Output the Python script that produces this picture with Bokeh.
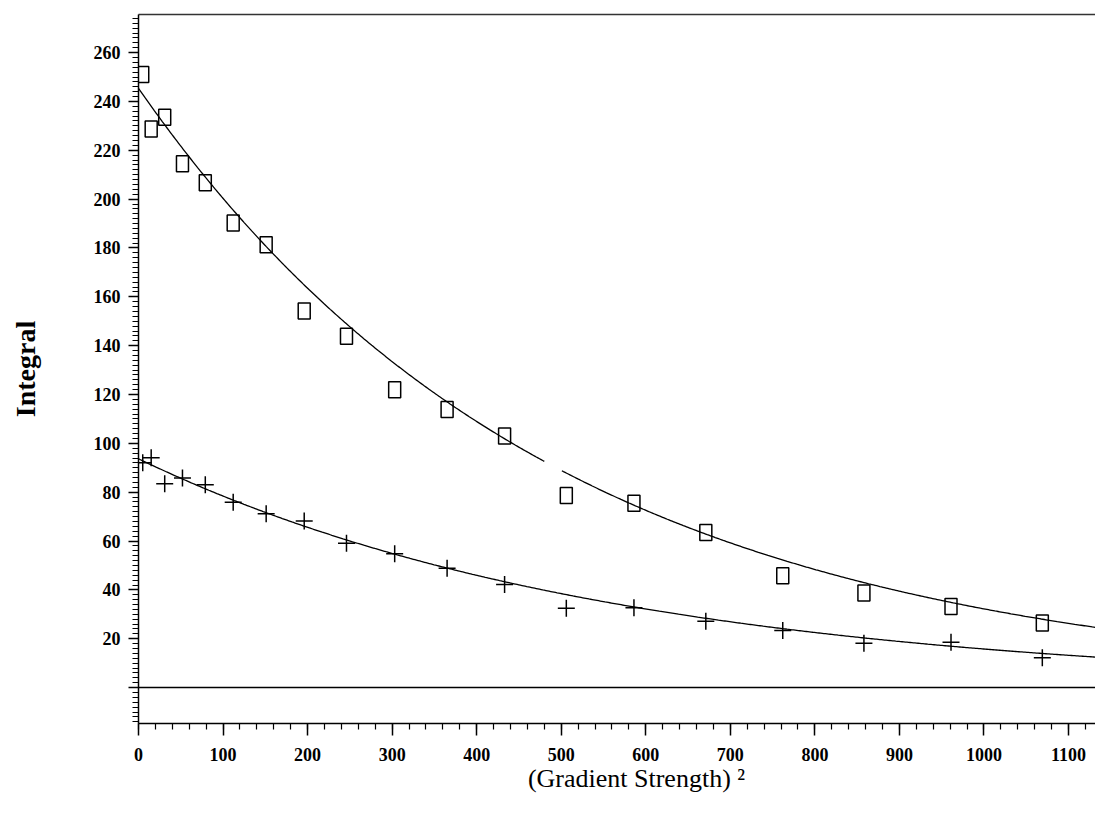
import numpy as np
from bokeh.plotting import figure
from bokeh.models import Range1d, FixedTicker, LinearAxis, Span, ColumnDataSource
from bokeh.embed import file_html
from bokeh.resources import INLINE

# ---- data ----
sq_x = [5, 15, 31, 52, 79, 112, 151, 196, 246, 303, 365, 433, 506, 586, 671, 762, 858, 961, 1069]
sq_y = [251, 228.7, 233.5, 214.5, 206.7, 190.2, 181.3, 154.2, 143.9, 122, 113.9, 103, 78.7, 75.5, 63.5, 45.8, 38.7, 33.2, 26.5]

pl_x = [5, 15, 31, 52, 79, 112, 151, 196, 246, 303, 365, 433, 506, 586, 671, 762, 858, 961, 1069]
pl_y = [92.1, 94.1, 83.5, 85.8, 83.1, 75.9, 71.2, 68.2, 59.1, 54.8, 48.9, 42.2, 32.5, 32.7, 27.2, 23.4, 18.2, 18.6, 12.2]

# exponential fit parameters (y = A * exp(-k x))
fit_sq_A, fit_sq_k = 245.4, 0.00203
fit_pl_A, fit_pl_k = 93.7, 0.00178
fit_sq_gap = (481, 499)   # short break in the upper curve

x_ticks = list(range(0, 1101, 100))
x_minor = list(range(0, 1141, 20))
y_ticks = list(range(0, 261, 20))
y_minor = list(range(-14, 276, 2))

X_MAX = 1131.9
Y_MIN, Y_MAX = -14.7, 275.6

FONT = "Liberation Serif"
INK = "black"

p = figure(width=1095, height=799, output_backend="svg", toolbar_location=None,
           x_range=Range1d(0, X_MAX), y_range=Range1d(Y_MIN, Y_MAX),
           min_border_left=138, min_border_right=0, min_border_top=14, min_border_bottom=76)
p.grid.visible = False
p.outline_line_color = None
p.background_fill_color = "white"
p.border_fill_color = "white"

# axes
xa = p.xaxis[0]
xa.ticker = FixedTicker(ticks=x_ticks, minor_ticks=x_minor)
xa.axis_label = "\u00a0" * 6 + "(Gradient Strength) \u00b2"
xa.axis_label_text_font = FONT
xa.axis_label_text_font_style = "normal"
xa.axis_label_text_font_size = "26px"
xa.axis_label_text_color = INK
xa.axis_label_standoff = 0
xa.major_label_text_font = FONT
xa.major_label_text_font_style = "bold"
xa.major_label_text_font_size = "18px"
xa.major_label_text_color = INK
xa.major_label_standoff = 12
xa.major_tick_out = 12
xa.major_tick_in = 0
xa.minor_tick_out = 6
xa.minor_tick_in = 0
xa.axis_line_width = 1.5
xa.axis_line_color = INK
xa.major_tick_line_width = 1.5
xa.major_tick_line_color = INK
xa.minor_tick_line_width = 1.2
xa.minor_tick_line_color = INK

ya = p.yaxis[0]
ya.ticker = FixedTicker(ticks=y_ticks, minor_ticks=y_minor)
ya.major_label_overrides = {0: ""}
ya.axis_label = "Integral"
ya.axis_label_text_font = FONT
ya.axis_label_text_font_style = "bold"
ya.axis_label_text_font_size = "28px"
ya.axis_label_text_color = INK
ya.axis_label_standoff = 50
ya.major_label_text_font = FONT
ya.major_label_text_font_style = "bold"
ya.major_label_text_font_size = "18px"
ya.major_label_text_color = INK
ya.major_label_standoff = 8
ya.major_tick_out = 10
ya.major_tick_in = 0
ya.minor_tick_out = 6
ya.minor_tick_in = 0
ya.axis_line_width = 1.5
ya.axis_line_color = INK
ya.major_tick_line_width = 1.5
ya.major_tick_line_color = INK
ya.minor_tick_line_width = 1.2
ya.minor_tick_line_color = INK

top = LinearAxis(ticker=FixedTicker(ticks=[]), axis_line_width=1.5, axis_line_color="#333333",
                 major_tick_out=0, minor_tick_out=0, major_tick_in=0, minor_tick_in=0)
p.add_layout(top, "above")

# zero line
p.add_layout(Span(location=0, dimension="width", line_color=INK, line_width=1.5))

# fitted curves
cx = np.linspace(0, X_MAX, 600)
cy_sq = fit_sq_A * np.exp(-fit_sq_k * cx)
cy_sq[(cx > fit_sq_gap[0]) & (cx < fit_sq_gap[1])] = np.nan
cy_pl = fit_pl_A * np.exp(-fit_pl_k * cx)
p.line(cx, cy_sq, line_color=INK, line_width=1.3)
p.line(cx, cy_pl, line_color=INK, line_width=1.3)

# markers
src_sq = ColumnDataSource(dict(x=sq_x, y=sq_y))
src_pl = ColumnDataSource(dict(x=pl_x, y=pl_y))
p.rect("x", "y", width=12, height=16, width_units="screen", height_units="screen",
       source=src_sq, fill_color=None, line_color=INK, line_width=1.5)
p.scatter("x", "y", marker="cross", size=17, source=src_pl,
          line_color=INK, line_width=1.5)

open("out.html", "w").write(file_html(p, INLINE))
